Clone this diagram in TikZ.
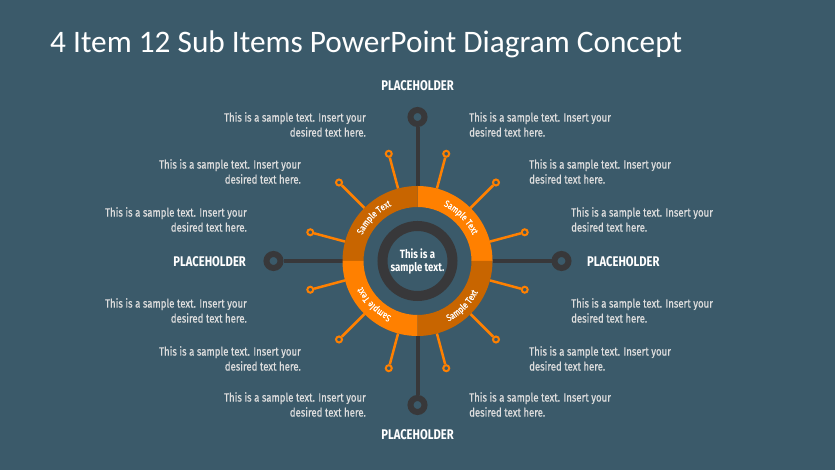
\documentclass[tikz,border=0pt]{standalone}
\usepackage{fontspec}
\setmainfont{Fira Sans}
\newfontfamily\titlefont{Carlito}
\newfontfamily\condfont[FakeStretch=0.8]{Fira Sans}
\newfontfamily\bodyfont[FakeStretch=0.8, FakeBold=0.6]{Fira Sans}
\usepackage{tikz}
\usetikzlibrary{calc, decorations.text}

\definecolor{slate}{RGB}{59,90,106}
\definecolor{spokegray}{RGB}{56,56,58}
\definecolor{brightorange}{RGB}{255,128,0}
\definecolor{darkorange}{RGB}{200,101,0}
\definecolor{textgray}{RGB}{222,222,222}
\newcommand{\ringfont}{\bodyfont\fontsize{9.5}{10}\selectfont}

\begin{document}
\begin{tikzpicture}[
    x=1pt, y=1pt,
    body/.style={font=\bodyfont\fontsize{12}{15}\selectfont, text=textgray, inner sep=0pt},
    leftbody/.style={body, align=right, anchor=east},
    rightbody/.style={body, align=left, anchor=west},
    holder/.style={font=\condfont\bfseries\fontsize{14}{16}\selectfont, text=white, inner sep=0pt},
    hub/.style={circle, draw=spokegray, line width=6pt, fill=slate, minimum size=14pt, inner sep=0pt},
    twig/.style={circle, draw=brightorange, line width=2pt, fill=slate, minimum size=6pt, inner sep=0pt},
    ringtext/.style={decorate, decoration={text along path, text align=center, text color=white, text={|\ringfont|Sample Text}}}
]
\fill[slate] (0,0) rectangle (835,470);
\useasboundingbox (0,0) rectangle (835,470);

\coordinate (c) at (417.5,209);

% Title
\node[font=\titlefont\fontsize{31.3}{34}\selectfont, text=white, anchor=base west, inner sep=0pt] (title) at (50,417) {4 Item 12 Sub Items PowerPoint Diagram Concept};

% Main spokes
\foreach \a/\n in {90/top, 180/left, 270/bottom, 0/right} {
    \coordinate (m\n) at ($(c)+(\a:75)$);
    \node[hub] (h\n) at ($(c)+(\a:144)$) {};
    \draw[spokegray, line width=4pt] (m\n) -- (h\n);
}

% Sub spokes
\foreach \i in {0,...,11} {
    \pgfmathsetmacro{\a}{15+30*\i}
    \coordinate (o\i) at ($(c)+(\a:75)$);
    \node[twig] (t\i) at ($(c)+(\a:111)$) {};
    \draw[brightorange, line width=2.5pt] (o\i) -- (t\i);
}

% Ring
\foreach \a/\col in {0/brightorange, 90/darkorange, 180/brightorange, 270/darkorange} {
    \fill[\col] ($(c)+(\a:75)$) arc[start angle=\a, end angle=\a+90, radius=75]
        -- ++(\a+90:-21) arc[start angle=\a+90, end angle=\a, radius=54] -- cycle;
}
\path[ringtext] ($(c)+(180:61)$) arc[start angle=180, end angle=90, radius=61];
\path[ringtext] ($(c)+(90:61)$) arc[start angle=90, end angle=0, radius=61];
\path[ringtext] ($(c)+(270:61)$) arc[start angle=270, end angle=180, radius=61];
\path[ringtext] ($(c)+(270:68)$) arc[start angle=270, end angle=360, radius=68];

% Centre
\draw[spokegray, line width=10pt] (c) circle[radius=35];
\node[font=\condfont\bfseries\fontsize{12}{13}\selectfont, text=white, align=center, inner sep=0pt] (core) at (c) {This is a\\sample text.};

% Placeholders
\node[holder] (ptop) at (417.5,384) {PLACEHOLDER};
\node[holder] (pbottom) at (417.5,35) {PLACEHOLDER};
\node[holder, anchor=east] (pleft) at (246,208) {PLACEHOLDER};
\node[holder, anchor=west] (pright) at (587,208) {PLACEHOLDER};

% Left texts
\node[leftbody] (l1) at (366,345.5) {This is a sample text. Insert your\\desired text here.};
\node[leftbody] (l2) at (301,298.5) {This is a sample text. Insert your\\desired text here.};
\node[leftbody] (l3) at (247,250.5) {This is a sample text. Insert your\\desired text here.};
\node[leftbody] (l4) at (247,159.5) {This is a sample text. Insert your\\desired text here.};
\node[leftbody] (l5) at (301,111.5) {This is a sample text. Insert your\\desired text here.};
\node[leftbody] (l6) at (366,65.5) {This is a sample text. Insert your\\desired text here.};

% Right texts
\node[rightbody] (r1) at (469,345.5) {This is a sample text. Insert your\\desired text here.};
\node[rightbody] (r2) at (529,298.5) {This is a sample text. Insert your\\desired text here.};
\node[rightbody] (r3) at (571,250.5) {This is a sample text. Insert your\\desired text here.};
\node[rightbody] (r4) at (571,159.5) {This is a sample text. Insert your\\desired text here.};
\node[rightbody] (r5) at (529,111.5) {This is a sample text. Insert your\\desired text here.};
\node[rightbody] (r6) at (469,65.5) {This is a sample text. Insert your\\desired text here.};

\end{tikzpicture}
\end{document}
